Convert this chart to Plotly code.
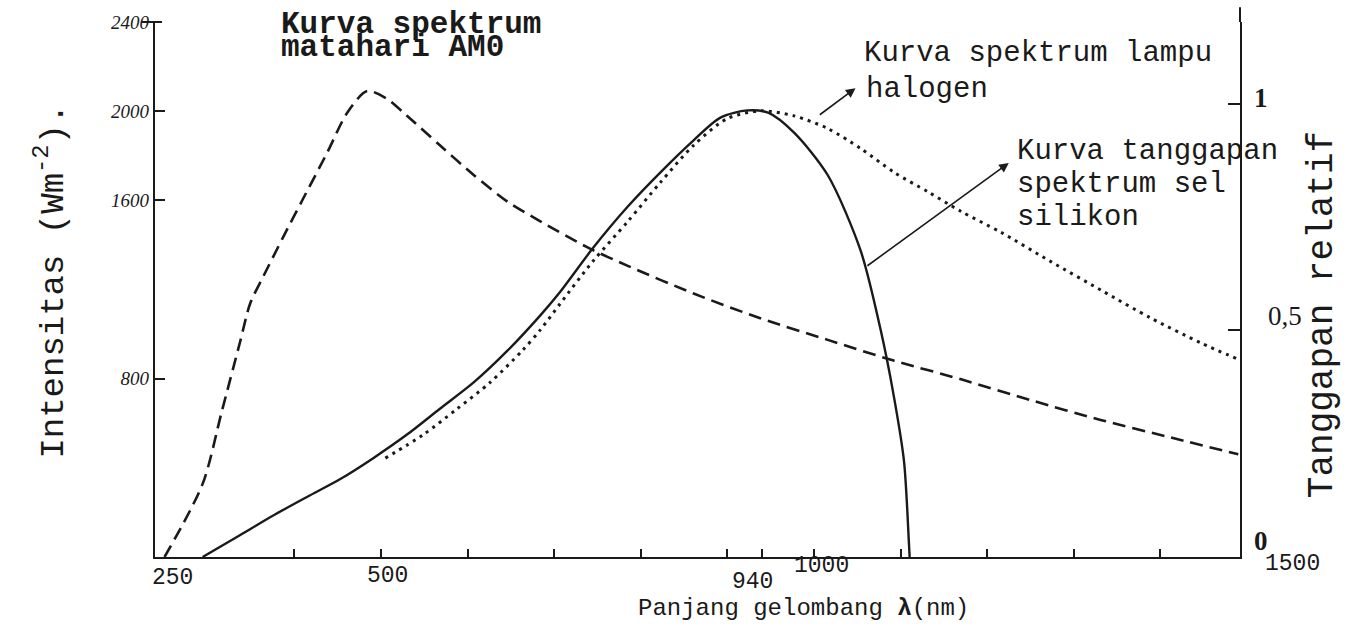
import plotly.graph_objects as go

# ---- data ----
sun_wl = [250, 294, 316, 337, 349, 364, 387, 410, 438, 461, 484, 507, 530, 568, 607,
          646, 684, 738, 785, 861, 938, 1016, 1092, 1170, 1250, 1331, 1412, 1490]
sun_int = [0, 328, 651, 961, 1138, 1258, 1435, 1607, 1815, 1993, 2090, 2055, 1979, 1847, 1714,
           1594, 1506, 1390, 1306, 1182, 1071, 974, 881, 797, 704, 615, 536, 461]

si_wl = [294, 337, 375, 415, 453, 491, 530, 568, 607, 646, 684, 707, 745, 785, 823, 861,
         892, 923, 947, 977, 1016, 1054, 1077, 1092, 1104, 1109.5, 1110.5]
si_resp = [0, 0.048, 0.091, 0.133, 0.172, 0.218, 0.270, 0.327, 0.385, 0.455, 0.533, 0.585,
           0.682, 0.773, 0.849, 0.919, 0.969, 0.985, 0.980, 0.936, 0.842, 0.675, 0.501,
           0.357, 0.211, 0.037, 0]

hal_wl = [505, 549, 588, 626, 664, 684, 707, 745, 785, 823, 861, 900, 938, 977, 1016,
          1054, 1092, 1132, 1170, 1216, 1274, 1332, 1389, 1447, 1490]
hal_resp = [0.218, 0.270, 0.327, 0.385, 0.457, 0.501, 0.559, 0.653, 0.740, 0.827, 0.908,
            0.967, 0.984, 0.973, 0.945, 0.901, 0.849, 0.805, 0.762, 0.716, 0.651, 0.588,
            0.527, 0.472, 0.436]

x_tickvals = [400, 500, 600, 700, 800, 900, 940, 1000, 1100, 1200, 1300, 1400, 1500]
x_ticklabels = ['250', '500', '940', '1000', '1500']
y_tickvals = [800, 1600, 2000, 2400]
y_ticktext = ['800', '1600', '2000', '2400']
y2_tickvals = [0, 0.5, 1]
y2_ticktext = ['0', '0,5', '1']

MONO = "Liberation Mono"
INK = "#1a1a1a"

# plot area in pixels
L, R, T, B = 155, 1240, 15, 557
W, H = 1350, 633
XRANGE = [239, 1492]


def px(xp):
    return (xp - L) / (R - L)


def py(yp):
    return (B - yp) / (B - T)


fig = go.Figure()
fig.add_trace(go.Scatter(x=sun_wl, y=sun_int, mode="lines", yaxis="y",
                         line=dict(color=INK, width=2.6, dash="13px,7px", shape="spline",
                                   smoothing=0.8),
                         name="AM0"))
fig.add_trace(go.Scatter(x=hal_wl, y=hal_resp, mode="lines", yaxis="y2",
                         line=dict(color=INK, width=3, dash="3px,5px", shape="spline",
                                   smoothing=0.8),
                         name="halogen"))
fig.add_trace(go.Scatter(x=si_wl, y=si_resp, mode="lines", yaxis="y2",
                         line=dict(color=INK, width=2.4, shape="spline", smoothing=0.8),
                         name="silikon"))

# x tick labels: (value, pixel y centre, x shift)
xlab_pos = {'250': (250, 578, 8), '500': (500, 576, 6), '940': (940, 582, -10),
            '1000': (1000, 566, 8), '1500': (1490, 564, 54)}
# right axis labels: (value, y shift, x pixel left)
y2lab_pos = {'1': (1, 6, 1252), '0,5': (0.5, 14, 1266), '0': (0, 16, 1252)}

annotations = [
    # arrows
    dict(x=1048, y=1.034, xref="x", yref="y2", ax=1005, ay=0.973, axref="x", ayref="y2",
         showarrow=True, arrowhead=2, arrowsize=1.2, arrowwidth=1.6, arrowcolor=INK, text=""),
    dict(x=1225, y=0.869, xref="x", yref="y2", ax=1060, ay=0.640, axref="x", ayref="y2",
         showarrow=True, arrowhead=2, arrowsize=1.2, arrowwidth=1.6, arrowcolor=INK, text=""),
    # curve labels
    dict(x=px(279), y=py(18), text="<b>Kurva spektrum</b>",
         font=dict(family=MONO, size=31, color=INK)),
    dict(x=px(279), y=py(41), text="<b>matahari AM0</b>",
         font=dict(family=MONO, size=31, color=INK)),
    dict(x=px(862), y=py(47), text="Kurva spektrum lampu"),
    dict(x=px(864), y=py(83), text="halogen"),
    dict(x=px(1015), y=py(146), text="Kurva tanggapan"),
    dict(x=px(1015), y=py(180), text="spektrum sel"),
    dict(x=px(1015), y=py(213), text="silikon"),
    # axis titles
    dict(x=px(636), y=py(609), text="Panjang gelombang <b>λ</b>(nm)",
         font=dict(family=MONO, size=24, color=INK)),
    dict(x=px(50), y=py(278), text="Intensitas (Wm<sup>-2</sup>).", textangle=-90,
         xanchor="center", font=dict(family=MONO, size=34, color=INK)),
    dict(x=px(1322), y=py(312), text="Tanggapan relatif", textangle=-90, xanchor="center",
         font=dict(family=MONO, size=36, color=INK)),
]
for lab in x_ticklabels:
    v, yp, sh = xlab_pos[lab]
    annotations.append(dict(x=v, xref="x", y=py(yp), text=lab, xanchor="center", xshift=sh,
                            font=dict(family=MONO, size=23, color=INK)))
for lab in y2_ticktext:
    v, sh, xp = y2lab_pos[lab]
    bold = lab in ('1', '0')
    annotations.append(dict(x=px(xp), y=v, yref="y2", yshift=sh,
                            text=f"<b>{lab}</b>" if bold else lab,
                            font=dict(family="Liberation Serif", size=27, color=INK)))

for a in annotations:
    if a.get("text") == "":
        continue
    a.setdefault("xref", "paper")
    a.setdefault("yref", "paper")
    a.setdefault("xanchor", "left")
    a.setdefault("yanchor", "middle")
    a.setdefault("showarrow", False)
    a.setdefault("font", dict(family=MONO, size=29, color=INK))

fig.update_layout(
    width=W, height=H,
    margin=dict(l=L, r=W - R, t=T, b=H - B, pad=0),
    paper_bgcolor="white", plot_bgcolor="white",
    showlegend=False,
    xaxis=dict(range=XRANGE, showgrid=False, zeroline=False,
               showline=True, linecolor=INK, linewidth=2.2,
               ticks="inside", ticklen=8, tickwidth=2, tickcolor=INK,
               tickvals=x_tickvals, showticklabels=False),
    yaxis=dict(range=[0, 2400], showgrid=False, zeroline=False,
               showline=True, linecolor=INK, linewidth=2.2,
               ticks="inside", ticklen=10, tickwidth=2, tickcolor=INK,
               tickvals=y_tickvals, ticktext=y_ticktext,
               tickfont=dict(family="Liberation Serif", size=19, color=INK, style="italic")),
    yaxis2=dict(range=[0, 1.18], overlaying="y", side="right", anchor="x",
                showgrid=False, zeroline=False,
                showline=True, linecolor=INK, linewidth=2,
                ticks="inside", ticklen=12, tickwidth=2, tickcolor=INK,
                tickvals=y2_tickvals, showticklabels=False),
    annotations=annotations,
    shapes=[
        dict(type="line", xref="paper", yref="paper", x0=1, x1=1, y0=1, y1=py(0),
             line=dict(color=INK, width=2)),
        dict(type="line", xref="paper", yref="paper", x0=px(142), x1=px(162), y0=1, y1=1,
             line=dict(color=INK, width=2)),
    ],
)

fig.write_html("out.html")
